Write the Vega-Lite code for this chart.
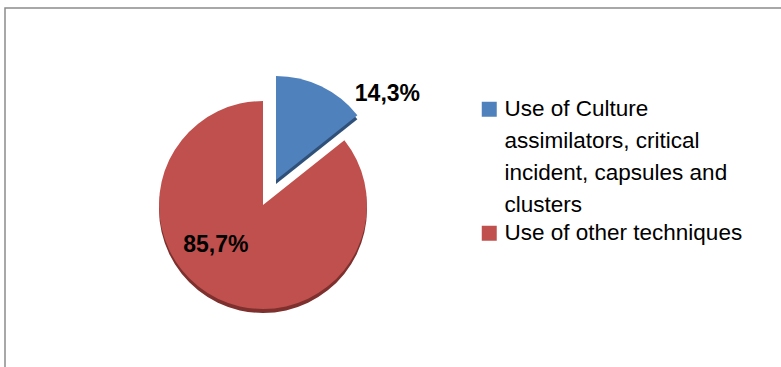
{
  "$schema": "https://vega.github.io/schema/vega-lite/v6.json",
  "width": 781,
  "height": 367,
  "autosize": {"type": "fit", "contains": "padding"},
  "padding": {"left": 5, "top": 8, "right": -4, "bottom": -4},
  "background": "white",
  "view": {"stroke": "#8c8c8c", "strokeWidth": 1.5},
  "config": {
    "view": {"stroke": "#8c8c8c", "strokeWidth": 1.5},
    "style": {"guide-label": {"lineHeight": 32}}
  },
  "data": {
    "values": [
      {"category": "Use of Culture assimilators, critical incident, capsules and clusters", "value": 14.3, "label": "14,3%"},
      {"category": "Use of other techniques", "value": 85.7, "label": "85,7%"}
    ]
  },
  "encoding": {
    "theta": {"field": "value", "type": "quantitative", "stack": true}
  },
  "layer": [
    {
      "mark": {"type": "arc", "radius": 104, "x": 258, "y": 201, "fill": "#7d302d"},
      "encoding": {"opacity": {"condition": {"test": "datum.value > 50", "value": 1}, "value": 0}}
    },
    {
      "mark": {"type": "arc", "radius": 104, "x": 258, "y": 197},
      "encoding": {
        "color": {
          "field": "category",
          "type": "nominal",
          "scale": {"domain": ["Use of Culture assimilators, critical incident, capsules and clusters", "Use of other techniques"], "range": ["#4F81BD", "#C0504D"]},
          "legend": {
            "title": null,
            "orient": "none",
            "legendX": 473,
            "legendY": 90,
            "padding": 0,
            "symbolType": "square",
            "symbolSize": 225,
            "symbolStrokeWidth": 0,
            "symbolOpacity": 1,
            "labelFont": "Liberation Sans",
            "labelFontSize": 22.5,
            "labelColor": "#000000",
            "labelLimit": 400,
            "labelOffset": 4,
            "rowPadding": 5,
            "labelExpr": "datum.label == 'Use of other techniques' ? datum.label : ['Use of Culture', 'assimilators, critical', 'incident, capsules and', 'clusters']"
          }
        },
        "opacity": {"condition": {"test": "datum.value > 50", "value": 1}, "value": 0}
      }
    },
    {
      "mark": {"type": "arc", "radius": 104, "x": 271, "y": 176, "fill": "#2f5078"},
      "encoding": {"opacity": {"condition": {"test": "datum.value < 50", "value": 1}, "value": 0}}
    },
    {
      "mark": {"type": "arc", "radius": 104, "x": 271, "y": 172, "fill": "#4F81BD"},
      "encoding": {"opacity": {"condition": {"test": "datum.value < 50", "value": 1}, "value": 0}}
    },
    {
      "mark": {"type": "text", "radius": 123, "x": 258, "y": 197, "dx": 71, "font": "Liberation Sans", "fontSize": 23, "fontWeight": "bold", "color": "#000000", "baseline": "middle", "align": "center"},
      "encoding": {
        "text": {"field": "label"},
        "opacity": {"condition": {"test": "datum.value < 50", "value": 1}, "value": 0}
      }
    },
    {
      "mark": {"type": "text", "radius": 44, "x": 258, "y": 197, "dx": -28, "font": "Liberation Sans", "fontSize": 23, "fontWeight": "bold", "color": "#000000", "baseline": "middle", "align": "center"},
      "encoding": {
        "text": {"field": "label"},
        "opacity": {"condition": {"test": "datum.value > 50", "value": 1}, "value": 0}
      }
    }
  ]
}
